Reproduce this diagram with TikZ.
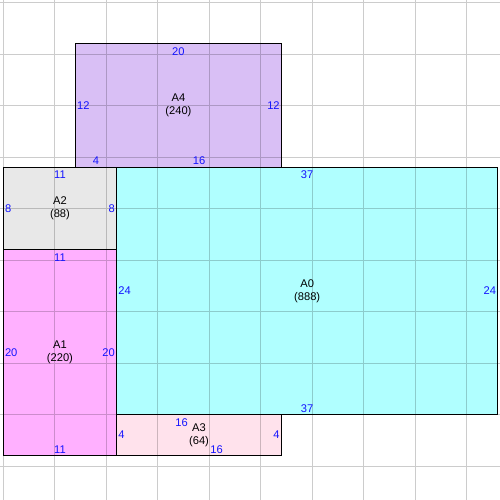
\documentclass[tikz,border=0pt]{standalone}
\usepackage{fontspec}
\setmainfont{Liberation Sans}
\usetikzlibrary{positioning}
\definecolor{fillzero}{RGB}{176,255,255}
\definecolor{fillone}{RGB}{255,176,255}
\definecolor{filltwo}{RGB}{232,232,232}
\definecolor{fillthree}{RGB}{255,226,236}
\definecolor{fillfour}{RGB}{217,191,245}
\definecolor{lenblue}{RGB}{20,20,255}

\begin{document}
\begin{tikzpicture}[x=2.5mm, y=2.5mm, node distance=0pt,
  room/.style={draw=black, line width=0.8pt, inner sep=0pt},
  roomname/.style={align=center, inner sep=0pt, font=\fontsize{7.7}{8.9}\selectfont},
  edgelen/.style={text=lenblue, inner sep=1.4pt, font=\fontsize{7.7}{8.9}\selectfont},
  gridline/.style={black, opacity=0.2, line width=0.6pt}]
  \useasboundingbox (-0.32,-3.3) rectangle (48.22,45.24);

  % rooms
  \node[room, fill=fillzero, minimum width=9.25cm, minimum height=6cm] (A0) at (29.5,17) {};
  \node[room, fill=fillone, minimum width=2.75cm, minimum height=5cm] (A1) at (5.5,11) {};
  \node[room, fill=filltwo, minimum width=2.75cm, minimum height=2cm] (A2) at (5.5,25) {};
  \node[room, fill=fillthree, minimum width=4cm, minimum height=1cm] (A3) at (19,3) {};
  \node[room, fill=fillfour, minimum width=5cm, minimum height=3cm] (A4) at (17,35) {};

  % background grid, seen through the fills
  \draw[gridline] (-0.32,-3.3) grid[step=5] (48.22,45.24);

  % names and areas
  \node[roomname] (A0n) at (A0) {A0\\(888)};
  \node[roomname] (A1n) at (A1) {A1\\(220)};
  \node[roomname] (A2n) at (A2) {A2\\(88)};
  \node[roomname] (A3n) at (A3) {A3\\(64)};
  \node[roomname] (A4n) at (A4) {A4\\(240)};

  % side lengths
  \node[edgelen, below=1.5pt of A0.north] (A0t) {37};
  \node[edgelen, above=of A0.south] (A0b) {37};
  \node[edgelen, right=of A0.west] (A0l) {24};
  \node[edgelen, left=of A0.east] (A0r) {24};

  \node[edgelen, below=1.5pt of A1.north] (A1t) {11};
  \node[edgelen, above=of A1.south] (A1b) {11};
  \node[edgelen, right=of A1.west] (A1l) {20};
  \node[edgelen, left=of A1.east] (A1r) {20};

  \node[edgelen, below=1.5pt of A2.north] (A2t) {11};
  \node[edgelen, right=of A2.west] (A2l) {8};
  \node[edgelen, left=of A2.east] (A2r) {8};

  \node[edgelen, below=1.5pt of {17.3,5}] (A3t) {16};
  \node[edgelen, anchor=south] (A3b) at (20.7,1) {16};
  \node[edgelen, right=of A3.west] (A3l) {4};
  \node[edgelen, left=of A3.east] (A3r) {4};

  \node[edgelen, below=1.5pt of A4.north] (A4t) {20};
  \node[edgelen, anchor=south] (A4b) at (9,29) {4};
  \node[edgelen, anchor=south] (A4c) at (19,29) {16};
  \node[edgelen, right=of A4.west] (A4l) {12};
  \node[edgelen, left=of A4.east] (A4r) {12};
\end{tikzpicture}
\end{document}
